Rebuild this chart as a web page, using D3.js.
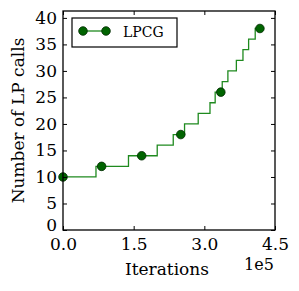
<!DOCTYPE html>
<html lang="en">
<head>
    <meta charset="UTF-8">
    <title>LPCG calls</title>
    <script src="https://cdn.jsdelivr.net/npm/d3@7"></script>
    <style>
        body { margin: 0; background: #ffffff; }
        svg text { font-family: "DejaVu Serif", "Liberation Serif", serif !important; fill: #000; }
    </style>
</head>
<body>
    <div id="canvas"></div>
    <script>

        // step line: iteration at which the LP call count changes, and the new count
        const stepIters = [0, 0.70e5, 1.39e5, 2.00e5, 2.34e5, 2.58e5, 2.87e5, 3.12e5, 3.23e5, 3.38e5, 3.50e5, 3.68e5, 3.82e5, 3.94e5, 4.08e5, 4.18e5];
        const stepCalls = [10, 12, 14, 16, 18, 20, 22, 24, 26, 28, 30, 32, 34, 36, 38, 38];

        // markers
        const markIters = [0, 0.82e5, 1.67e5, 2.50e5, 3.35e5, 4.18e5];
        const markCalls = [10, 12, 14, 18, 26, 38];

        const xTicks = [0, 1.5e5, 3.0e5, 4.5e5];
        const xTickLabels = ['0.0', '1.5', '3.0', '4.5'];
        const yTicks = [0, 5, 10, 15, 20, 25, 30, 35, 40];

        const width = 299, height = 291;
        const margin = { left: 63, right: 24, top: 11, bottom: 61 };

        const svg = d3.select('#canvas')
            .append('svg')
            .attr('width', width)
            .attr('height', height);

        const x = d3.scaleLinear().domain([0, 4.5e5]).range([margin.left, width - margin.right]);
        const y = d3.scaleLinear().domain([0, 41.3]).range([height - margin.bottom, margin.top]);

        const green = '#1f8a1f';
        const markFill = '#006400';

        // step line
        const stepData = stepIters.map((d, i) => ({ x: d, y: stepCalls[i] }));
        const line = d3.line()
            .x(d => x(d.x))
            .y(d => y(d.y))
            .curve(d3.curveStepAfter);

        svg.append('path')
            .datum(stepData)
            .attr('fill', 'none')
            .attr('stroke', green)
            .attr('stroke-width', 1.3)
            .attr('d', line);

        // markers
        const markData = markIters.map((d, i) => ({ x: d, y: markCalls[i] }));
        svg.selectAll('circle.mark')
            .data(markData)
            .enter()
            .append('circle')
            .attr('class', 'mark')
            .attr('cx', d => x(d.x))
            .attr('cy', d => y(d.y))
            .attr('r', 4.3)
            .attr('fill', markFill)
            .attr('stroke', '#002800')
            .attr('stroke-width', 0.8);

        // axes (ticks inward, on all four sides)
        const tickLen = 4;

        const xBottom = svg.append('g')
            .attr('transform', `translate(0, ${height - margin.bottom})`)
            .call(d3.axisBottom(x).tickValues(xTicks).tickFormat((d, i) => xTickLabels[i]).tickSizeInner(-tickLen).tickSizeOuter(0).tickPadding(8));
        const xTop = svg.append('g')
            .attr('transform', `translate(0, ${margin.top})`)
            .call(d3.axisTop(x).tickValues(xTicks).tickFormat('').tickSizeInner(-tickLen).tickSizeOuter(0));
        const yLeft = svg.append('g')
            .attr('transform', `translate(${margin.left}, 0)`)
            .call(d3.axisLeft(y).tickValues(yTicks).tickSizeInner(-tickLen).tickSizeOuter(0).tickPadding(6));
        const yRight = svg.append('g')
            .attr('transform', `translate(${width - margin.right}, 0)`)
            .call(d3.axisRight(y).tickValues(yTicks).tickFormat('').tickSizeInner(-tickLen).tickSizeOuter(0));

        [xBottom, xTop, yLeft, yRight].forEach(g => {
            g.attr('font-size', 17);
            g.select('.domain').remove();
            g.selectAll('line').attr('stroke', '#000').attr('stroke-width', 1);
            g.selectAll('text')
                .style('font-size', '17px')
                .attr('fill', '#000');
        });
        // the "0" label sits just above the x tick labels
        yLeft.selectAll('.tick text').filter(d => d === 0).attr('dy', '0em');

        // frame
        svg.append('rect')
            .attr('x', margin.left)
            .attr('y', margin.top)
            .attr('width', width - margin.left - margin.right)
            .attr('height', height - margin.top - margin.bottom)
            .attr('fill', 'none')
            .attr('stroke', '#000')
            .attr('stroke-width', 1.3);

        // axis labels
        svg.append('text')
            .attr('x', 167)
            .attr('y', 275)
            .attr('text-anchor', 'middle')
            .style('font-size', '17px')
            .text('Iterations');

        svg.append('text')
            .attr('x', 259)
            .attr('y', 270)
            .attr('text-anchor', 'middle')
            .style('font-size', '16px')
            .text('1e5');

        svg.append('text')
            .attr('transform', `translate(24, ${(margin.top + height - margin.bottom) / 2}) rotate(-90)`)
            .attr('text-anchor', 'middle')
            .style('font-size', '17px')
            .text('Number of LP calls');

        // legend
        const lg = svg.append('g');
        lg.append('rect')
            .attr('x', 72).attr('y', 18)
            .attr('width', 105).attr('height', 29)
            .attr('fill', '#fff')
            .attr('stroke', '#000')
            .attr('stroke-width', 1.2);
        lg.append('line')
            .attr('x1', 83).attr('x2', 106)
            .attr('y1', 31).attr('y2', 31)
            .attr('stroke', green).attr('stroke-width', 1.3);
        lg.selectAll('circle')
            .data([83, 106])
            .enter()
            .append('circle')
            .attr('cx', d => d).attr('cy', 31).attr('r', 4.3)
            .attr('fill', markFill)
            .attr('stroke', '#002800')
            .attr('stroke-width', 0.8);
        lg.append('text')
            .attr('x', 123).attr('y', 37)
            .style('font-size', '14px')
            .text('LPCG');

    </script>
</body>
</html>
